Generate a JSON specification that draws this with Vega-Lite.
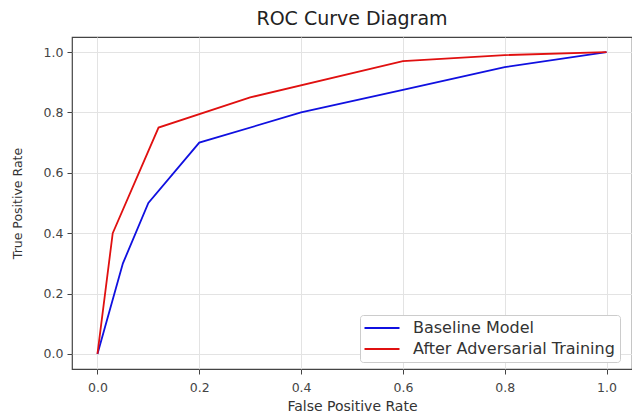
{
  "$schema": "https://vega.github.io/schema/vega-lite/v6.json",
  "autosize": {"type": "none"},
  "padding": {"left": 72, "top": 37, "right": 0, "bottom": 45},
  "width": 560,
  "height": 332,
  "background": "white",
  "title": {"text": "ROC Curve Diagram", "fontSize": 19, "font": "DejaVu Sans", "fontWeight": "normal", "color": "#222", "offset": 8, "anchor": "middle"},
  "data": {"values": [
    {"model": "Baseline Model", "fpr": 0.0, "tpr": 0.0},
    {"model": "Baseline Model", "fpr": 0.05, "tpr": 0.3},
    {"model": "Baseline Model", "fpr": 0.1, "tpr": 0.5},
    {"model": "Baseline Model", "fpr": 0.2, "tpr": 0.7},
    {"model": "Baseline Model", "fpr": 0.4, "tpr": 0.8},
    {"model": "Baseline Model", "fpr": 0.6, "tpr": 0.875},
    {"model": "Baseline Model", "fpr": 0.8, "tpr": 0.95},
    {"model": "Baseline Model", "fpr": 1.0, "tpr": 1.0},
    {"model": "After Adversarial Training", "fpr": 0.0, "tpr": 0.0},
    {"model": "After Adversarial Training", "fpr": 0.03, "tpr": 0.4},
    {"model": "After Adversarial Training", "fpr": 0.12, "tpr": 0.75},
    {"model": "After Adversarial Training", "fpr": 0.3, "tpr": 0.85},
    {"model": "After Adversarial Training", "fpr": 0.6, "tpr": 0.97},
    {"model": "After Adversarial Training", "fpr": 0.8, "tpr": 0.99},
    {"model": "After Adversarial Training", "fpr": 1.0, "tpr": 1.0}
  ]},
  "mark": {"type": "line", "strokeWidth": 1.8},
  "encoding": {
    "x": {"field": "fpr", "type": "quantitative", "title": "False Positive Rate",
      "scale": {"domain": [-0.05, 1.05], "nice": false, "zero": false},
      "axis": {"values": [0, 0.2, 0.4, 0.6, 0.8, 1.0], "format": ".1f", "labelPadding": 7, "titleFontSize": 14, "titlePadding": 6}},
    "y": {"field": "tpr", "type": "quantitative", "title": "True Positive Rate",
      "scale": {"domain": [-0.05, 1.05], "nice": false, "zero": false},
      "axis": {"values": [0, 0.2, 0.4, 0.6, 0.8, 1.0], "format": ".1f", "labelPadding": 4, "titleFontSize": 12.5, "titlePadding": 19}},
    "color": {"field": "model", "type": "nominal", "sort": ["Baseline Model", "After Adversarial Training"],
      "scale": {"domain": ["Baseline Model", "After Adversarial Training"], "range": ["#1010e0", "#e01010"]},
      "legend": {"title": null, "orient": "none", "legendX": 288, "legendY": 278, "symbolType": "M-3,0L3,0", "symbolSize": 136, "symbolStrokeWidth": 2, "symbolOffset": 9, "labelFontSize": 16, "labelFont": "DejaVu Sans", "labelColor": "#333", "labelOffset": 23, "labelLimit": 400, "padding": 5, "rowPadding": 5, "fillColor": "white", "strokeColor": "#ccc", "cornerRadius": 3}}
  },
  "config": {
    "font": "DejaVu Sans",
    "view": {"stroke": "#444", "strokeWidth": 1.2},
    "axis": {"domain": false, "grid": true, "gridColor": "#e3e3e3", "gridWidth": 1, "tickColor": "#444", "tickSize": 5, "labelFontSize": 12.5, "labelColor": "#444", "labelFont": "DejaVu Sans", "titleFont": "DejaVu Sans", "titleFontWeight": "normal", "titleColor": "#333"}
  }
}
